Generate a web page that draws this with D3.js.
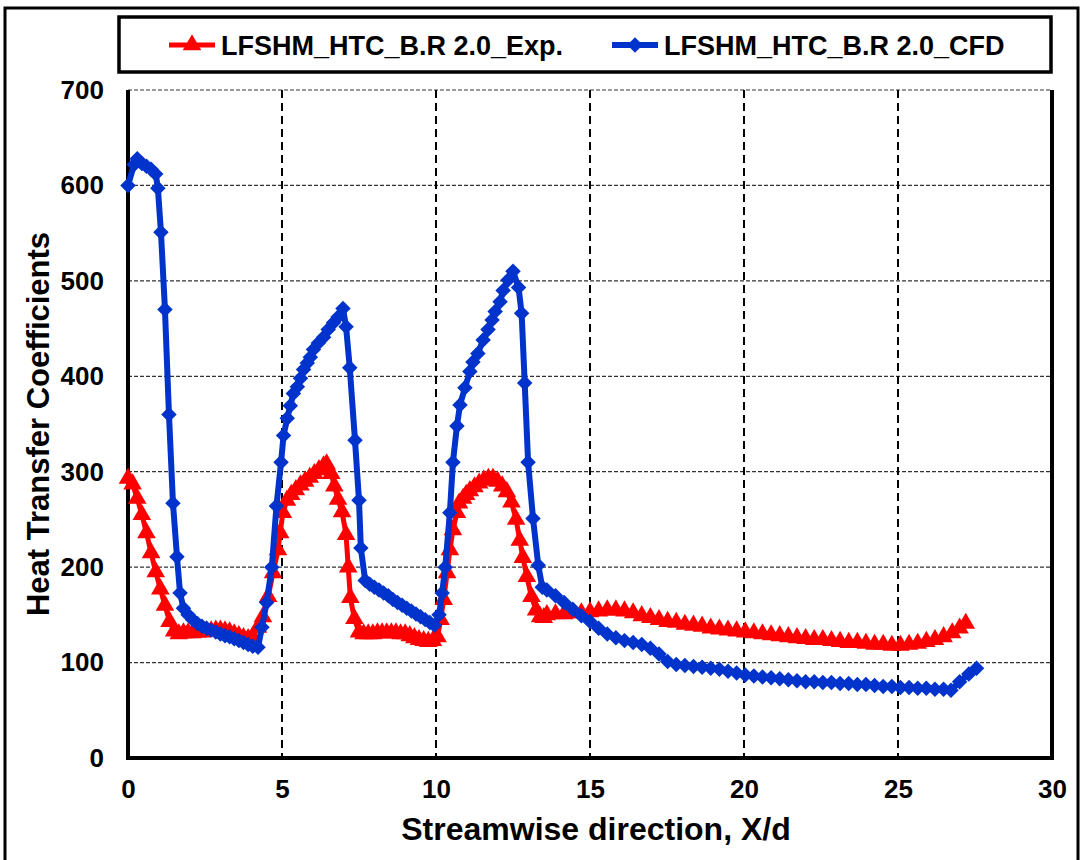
<!DOCTYPE html>
<html>
<head>
<meta charset="utf-8">
<script src="https://cdn.jsdelivr.net/npm/d3@7"></script>
<style>
  html, body { margin: 0; padding: 0; background: #fff; }
  svg { display: block; }
  text { font-family: "Liberation Sans", Arial, sans-serif; font-weight: bold; fill: #000; }
</style>
</head>
<body>
<svg id="chart" width="1082" height="860"></svg>
<script>
// Series names
const seriesNames = ["LFSHM_HTC_B.R 2.0_Exp.", "LFSHM_HTC_B.R 2.0_CFD"];

// Experimental heat transfer coefficients (X/d, HTC)
const expX = [0, 0.15, 0.3, 0.45, 0.6, 0.75, 0.9, 1.05, 1.2, 1.35, 1.5, 1.65,
  1.8, 1.95, 2.1, 2.25, 2.4, 2.55, 2.7, 2.85, 3.0, 3.15, 3.3, 3.45, 3.6, 3.75, 3.9, 4.05,
  4.22, 4.38, 4.55, 4.71, 4.87, 4.94, 5.03, 5.16, 5.3, 5.45, 5.6, 5.75, 5.9, 6.05, 6.2, 6.35, 6.45,
  6.6, 6.7, 6.82, 6.95, 7.08, 7.15, 7.22, 7.35, 7.5,
  7.65, 7.8, 7.95, 8.1, 8.25, 8.4, 8.55, 8.7, 8.85, 9.0, 9.15, 9.3, 9.45, 9.6, 9.75, 9.9, 10.05,
  10.15, 10.25, 10.36, 10.45, 10.55, 10.68, 10.75, 10.88, 10.98, 11.1, 11.25, 11.4, 11.55, 11.7, 11.85,
  12.0, 12.15, 12.3, 12.45, 12.6, 12.72, 12.82, 12.95, 13.1, 13.25, 13.38, 13.5,
  13.6, 13.88, 14.16, 14.44, 14.72, 15.0, 15.28, 15.56, 15.84, 16.12, 16.4, 16.68, 16.96, 17.24,
  17.52, 17.8, 18.08, 18.36, 18.64, 18.92, 19.2, 19.48, 19.76, 20.04, 20.32, 20.6, 20.88, 21.16,
  21.44, 21.72, 22.0, 22.28, 22.56, 22.84, 23.12, 23.4, 23.68, 23.96, 24.24, 24.52, 24.8, 25.08,
  25.36, 25.64, 25.92, 26.2, 26.48, 26.76, 27.0, 27.2];
const expY = [293, 287, 272, 255, 236, 215, 195, 177, 160, 143, 133, 130,
  131, 131, 131, 132, 132, 133, 133, 134, 134, 133, 132, 130, 128, 126, 125, 127,
  137, 148, 169, 194, 218, 236, 257, 270, 276, 281, 286, 290, 294, 298, 302, 306, 308,
  298, 285, 271, 258, 234, 200, 168, 146, 132,
  130, 130, 130, 131, 131, 131, 131, 131, 130, 130, 128, 126, 124, 123, 122, 123, 127,
  145, 166, 194, 218, 239, 257, 267, 272, 276, 280, 284, 288, 291, 293, 293,
  290, 285, 279, 268, 250, 228, 210, 190, 169, 155, 148, 147,
  150, 151, 151, 152, 152, 153, 154, 155, 155, 154, 152, 149, 147, 145,
  143, 142, 140, 139, 138, 136, 135, 134, 133, 132, 131, 130, 129, 128,
  127, 126, 125, 124, 124, 123, 122, 121, 121, 120, 119, 119, 118, 118,
  119, 120, 122, 124, 127, 131, 136, 141];

// CFD heat transfer coefficients (X/d, HTC)
const cfdX = [0, 0.2, 0.3, 0.45, 0.6, 0.75, 0.9, 0.97, 1.07, 1.2, 1.33, 1.46, 1.59, 1.69,
  1.8, 1.95, 2.1, 2.25, 2.4, 2.55, 2.7, 2.85, 3.0, 3.15, 3.3, 3.45, 3.6, 3.75, 3.9, 4.05,
  4.22, 4.35, 4.5, 4.67, 4.82, 4.97, 5.05, 5.17, 5.27, 5.37, 5.5, 5.6, 5.7, 5.82, 5.92, 6.02,
  6.18, 6.35, 6.5, 6.67, 6.82, 6.98, 7.08, 7.2, 7.37, 7.5, 7.56,
  7.7, 7.85, 8.0, 8.15, 8.3, 8.45, 8.6, 8.75, 8.9, 9.05, 9.2, 9.35, 9.5, 9.65, 9.8, 9.95,
  10.1, 10.2, 10.3, 10.45, 10.55, 10.68, 10.78, 10.94, 11.1, 11.2, 11.36, 11.53, 11.69, 11.82,
  11.92, 12.08, 12.18, 12.34, 12.5, 12.68, 12.78, 12.88, 12.99, 13.15, 13.32, 13.45,
  13.6, 13.88, 14.16, 14.44, 14.72, 15.0, 15.28, 15.56, 15.84, 16.12, 16.4, 16.68, 16.96, 17.24,
  17.52, 17.8, 18.08, 18.36, 18.64, 18.92, 19.2, 19.48, 19.76, 20.04, 20.32, 20.6, 20.88, 21.16,
  21.44, 21.72, 22.0, 22.28, 22.56, 22.84, 23.12, 23.4, 23.68, 23.96, 24.24, 24.52, 24.8, 25.08,
  25.36, 25.64, 25.92, 26.2, 26.48, 26.72, 27.0, 27.3, 27.55];
const cfdY = [600, 622, 628, 623, 620, 617, 612, 597, 551, 470, 360, 267, 211, 173,
  157, 150, 145, 141, 138, 136, 134, 132, 130, 128, 127, 125, 123, 121, 119, 117,
  116, 137, 163, 200, 264, 310, 338, 356, 369, 382, 389, 398, 407, 414, 420, 428, 435,
  441, 449, 456, 462, 471, 452, 409, 333, 270, 220, 186,
  182, 179, 176, 173, 170, 166, 163, 160, 157, 154, 151, 148, 145, 142, 139,
  150, 173, 200, 257, 310, 348, 370, 388, 405, 415, 424, 438, 449, 459,
  468, 478, 490, 501, 510, 493, 466, 393, 310, 251, 202, 179,
  176, 170, 163, 156, 149, 143, 136, 130, 126, 123, 121, 119, 115, 109,
  101, 98, 97, 96, 95, 94, 93, 91, 89, 87, 86, 85, 84, 83,
  82, 81, 80, 80, 79, 79, 78, 78, 77, 77, 76, 75, 75, 74,
  74, 73, 73, 72, 72, 71, 80, 88, 94];

// Axis ticks
const xTicks = [0, 5, 10, 15, 20, 25, 30];
const yTicks = [0, 100, 200, 300, 400, 500, 600, 700];

const expColor = "#ff0000";
const cfdColor = "#0033cc";

const svg = d3.select("#chart");
const plot = { left: 128, right: 1052, top: 90, bottom: 758 };

const x = d3.scaleLinear().domain([0, 30]).range([plot.left, plot.right]);
const y = d3.scaleLinear().domain([0, 700]).range([plot.bottom, plot.top]);

// Outer frame
svg.append("rect")
  .attr("x", 5).attr("y", 8).attr("width", 1073).attr("height", 870)
  .attr("fill", "none").attr("stroke", "#000").attr("stroke-width", 3);

// Horizontal grid lines
svg.append("g")
  .selectAll("line")
  .data(yTicks.filter(d => d > 0))
  .join("line")
  .attr("x1", plot.left).attr("x2", plot.right)
  .attr("y1", d => y(d)).attr("y2", d => y(d))
  .attr("stroke", "#333").attr("stroke-width", 1.2)
  .attr("stroke-dasharray", "4,2");

// Vertical grid lines
svg.append("g")
  .selectAll("line")
  .data(xTicks.filter(d => d > 0 && d < 30))
  .join("line")
  .attr("x1", d => x(d)).attr("x2", d => x(d))
  .attr("y1", plot.top).attr("y2", plot.bottom)
  .attr("stroke", "#000").attr("stroke-width", 2)
  .attr("stroke-dasharray", "8,5");

// Axes (no tick marks, bold labels)
const xAxis = svg.append("g")
  .attr("transform", `translate(0,${plot.bottom})`)
  .call(d3.axisBottom(x).tickValues(xTicks).tickSize(0).tickPadding(22).tickFormat(d3.format("d")));
xAxis.select(".domain").remove();
xAxis.selectAll("text").attr("font-size", 26).attr("font-family", null).attr("dy", "0.71em");

const yAxis = svg.append("g")
  .attr("transform", `translate(${plot.left},0)`)
  .call(d3.axisLeft(y).tickValues(yTicks).tickSize(0).tickPadding(24).tickFormat(d3.format("d")));
yAxis.select(".domain").remove();
yAxis.selectAll("text").attr("font-size", 26).attr("font-family", null);

// Plot border lines: left, bottom, right
svg.append("line").attr("x1", plot.left).attr("x2", plot.left).attr("y1", plot.top).attr("y2", plot.bottom + 2)
  .attr("stroke", "#000").attr("stroke-width", 4);
svg.append("line").attr("x1", plot.left - 2).attr("x2", plot.right + 2).attr("y1", plot.bottom).attr("y2", plot.bottom)
  .attr("stroke", "#000").attr("stroke-width", 4);
svg.append("line").attr("x1", plot.right).attr("x2", plot.right).attr("y1", plot.top).attr("y2", plot.bottom + 2)
  .attr("stroke", "#000").attr("stroke-width", 4);

// Axis titles
svg.append("text")
  .attr("x", 596).attr("y", 840)
  .attr("text-anchor", "middle").attr("font-size", 32)
  .text("Streamwise direction, X/d");

svg.append("text")
  .attr("transform", `translate(49,${(plot.top + plot.bottom) / 2}) rotate(-90)`)
  .attr("text-anchor", "middle").attr("font-size", 31)
  .text("Heat Transfer Coefficients");

// Series
const expData = expX.map((d, i) => [d, expY[i]]);
const cfdData = cfdX.map((d, i) => [d, cfdY[i]]);
const line = d3.line().x(d => x(d[0])).y(d => y(d[1]));

const triangle = d3.symbol().type(d3.symbolTriangle).size(150);
const diamond = d3.symbol().type(d3.symbolSquare).size(120);

function drawSeries(data, color, width, symbolPath, rot) {
  const g = svg.append("g");
  g.append("path").datum(data).attr("d", line)
    .attr("fill", "none").attr("stroke", color).attr("stroke-width", width)
    .attr("stroke-linejoin", "round");
  g.selectAll("path.m").data(data).join("path").attr("class", "m")
    .attr("d", symbolPath())
    .attr("transform", d => `translate(${x(d[0])},${y(d[1])}) rotate(${rot})`)
    .attr("fill", color);
}
drawSeries(expData, expColor, 5, triangle, 0);
drawSeries(cfdData, cfdColor, 6, diamond, 45);

// Legend
const legend = svg.append("g");
legend.append("rect")
  .attr("x", 119).attr("y", 17).attr("width", 932).attr("height", 55)
  .attr("fill", "#fff").attr("stroke", "#000").attr("stroke-width", 3.5);

const legendItems = [
  { name: seriesNames[0], color: expColor, sym: triangle, rot: 0, x0: 169, w: 5 },
  { name: seriesNames[1], color: cfdColor, sym: diamond, rot: 45, x0: 612, w: 6 }
];
legendItems.forEach(it => {
  legend.append("line").attr("x1", it.x0).attr("x2", it.x0 + 46).attr("y1", 45).attr("y2", 45)
    .attr("stroke", it.color).attr("stroke-width", it.w);
  legend.append("path").attr("d", it.sym())
    .attr("transform", `translate(${it.x0 + 23},45) rotate(${it.rot})`)
    .attr("fill", it.color);
  legend.append("text").attr("x", it.x0 + 52).attr("y", 45).attr("dy", "0.36em")
    .attr("font-size", 27).text(it.name);
});
</script>
</body>
</html>
